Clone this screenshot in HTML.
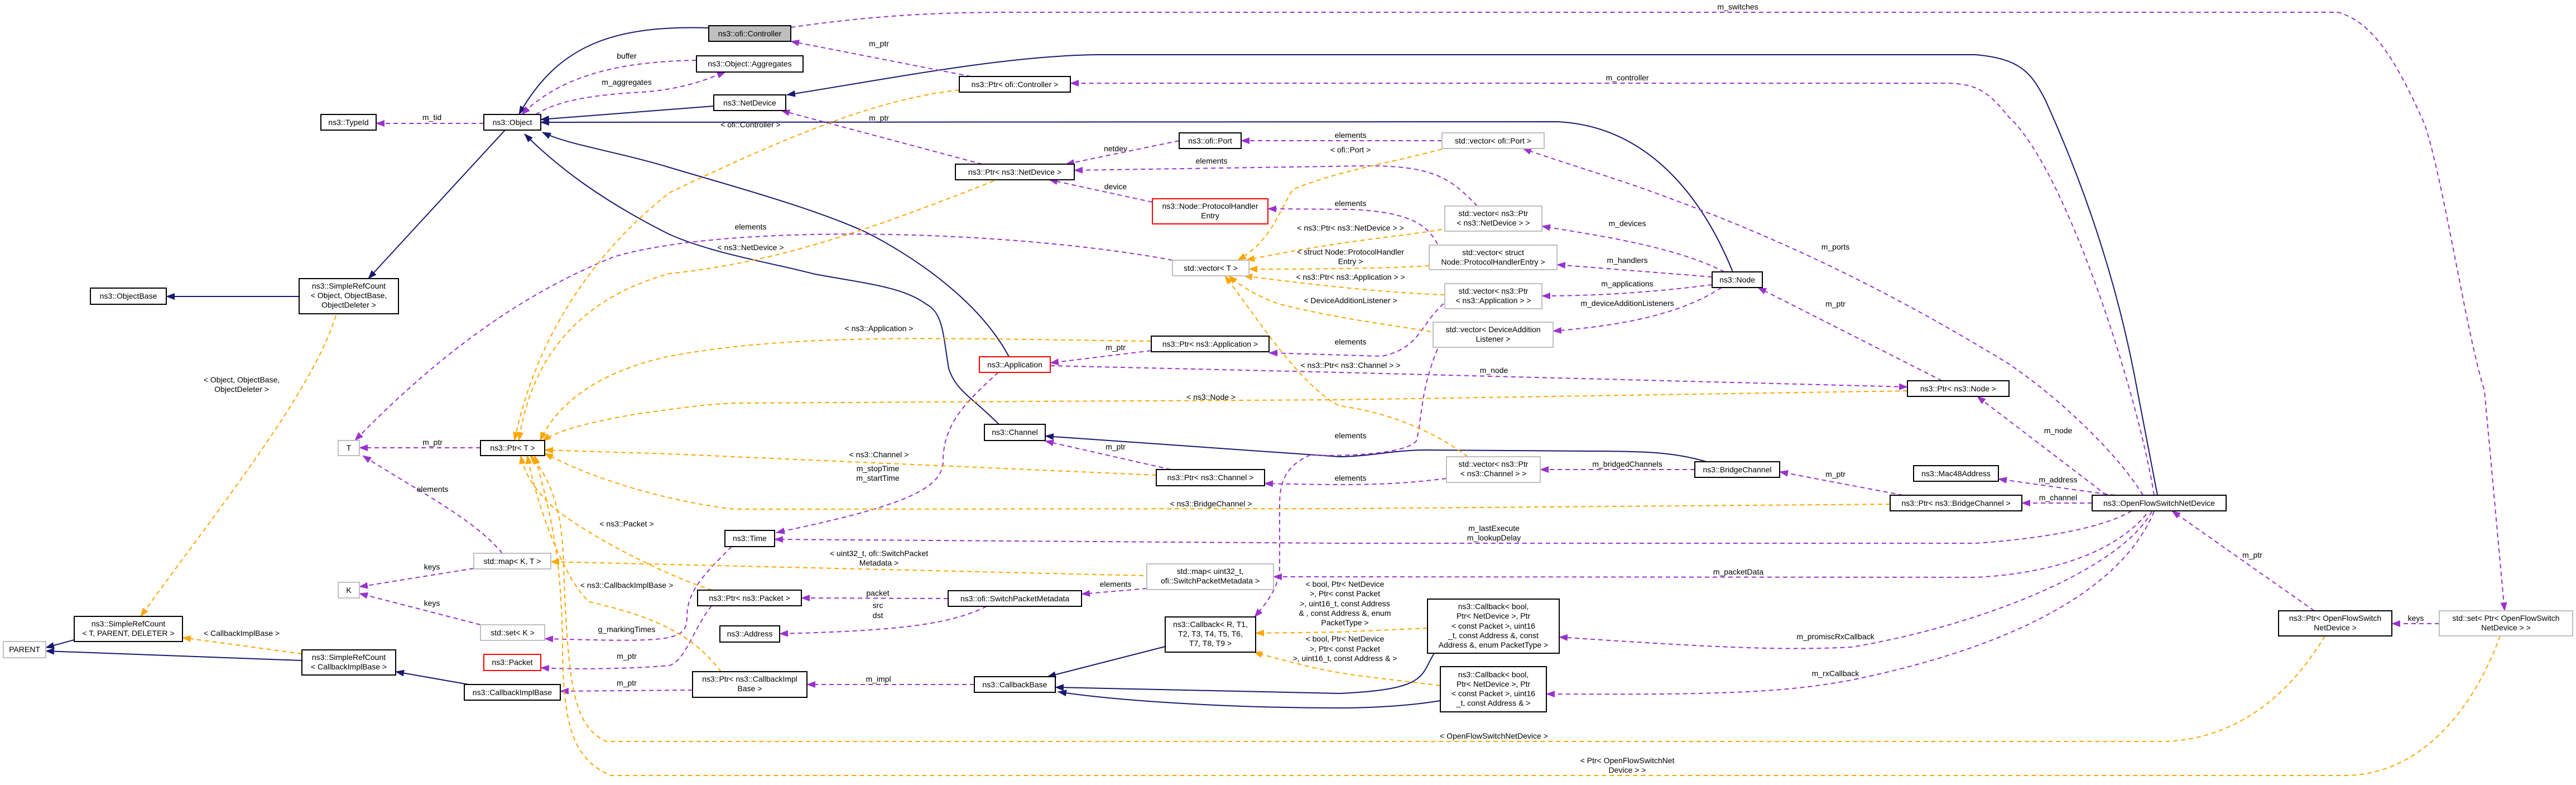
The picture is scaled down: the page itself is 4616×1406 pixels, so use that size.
<!DOCTYPE html>
<html><head><meta charset="utf-8"><style>
html,body{margin:0;padding:0;background:#fff;}
svg{display:block;}
text{font-family:"Liberation Sans",sans-serif;font-size:14px;fill:#000;}
.n{fill:#fff;stroke:#000;stroke-width:2;}
.g{fill:#fff;stroke:#bfbfbf;stroke-width:2;}
.r{fill:#fff;stroke:#ff0000;stroke-width:2;}
.b{fill:none;stroke:#191970;stroke-width:2;}
.p{fill:none;stroke:#9a32cd;stroke-width:2;stroke-dasharray:8,6;}
.o{fill:none;stroke:#ffa500;stroke-width:2;stroke-dasharray:8,6;}
</style></head><body>
<svg width="4616" height="1406" viewBox="0 0 4616 1406" xmlns="http://www.w3.org/2000/svg">
<defs>
<marker id="mb" markerUnits="userSpaceOnUse" markerWidth="16" markerHeight="12" refX="15" refY="6" orient="auto"><path d="M0,0 L16,6 L0,12 z" fill="#191970"/></marker>
<marker id="mp" markerUnits="userSpaceOnUse" markerWidth="16" markerHeight="12" refX="15" refY="6" orient="auto"><path d="M0,0 L16,6 L0,12 z" fill="#9a32cd"/></marker>
<marker id="mo" markerUnits="userSpaceOnUse" markerWidth="16" markerHeight="12" refX="15" refY="6" orient="auto"><path d="M0,0 L16,6 L0,12 z" fill="#ffa500"/></marker>
</defs>

<!-- navy inheritance edges -->
<g marker-end="url(#mb)">
<path class="b" d="M905,233 L660,499"/>
<path class="b" d="M536,531 L298,531"/>
<path class="b" d="M541,1183 L82,1166"/>
<path class="b" d="M133,1146 L82,1160"/>
<path class="b" d="M840,1226 L709,1203"/>
<path class="b" d="M1270,50 C1100,45 1000,80 930,205"/>
<path class="b" d="M1279,190 L969,214"/>
<path class="b" d="M3105,487 C3050,350 2950,225 2790,218 L969,219"/>
<path class="b" d="M1808,639 C1750,530 1620,450 1550,415 C1450,370 1300,330 1200,300 C1100,270 1020,260 972,237"/>
<path class="b" d="M1790,760 C1740,710 1713,700 1700,660 C1690,600 1690,560 1660,545 C1620,515 1560,509 1460,491 C1380,470 1280,455 1200,420 C1080,360 1000,300 940,240"/>
<path class="b" d="M3058,827 C3000,810 2950,808 2844,808 L2553,806 C2500,806 2450,818 2400,818 L1873,781"/>
<path class="b" d="M3866,887 L3830,700 C3790,480 3720,300 3665,179 C3640,130 3620,105 3540,98 L1965,98 C1800,100 1600,140 1410,170"/>
<path class="b" d="M2088,1158 L1877,1212"/>
<path class="b" d="M2570,1170 C2545,1210 2560,1235 2400,1242 L1891,1231"/>
<path class="b" d="M2581,1255 C2520,1265 2450,1268 2400,1268 C2200,1268 2000,1255 1896,1239"/>
</g>

<!-- purple usage edges -->
<g marker-end="url(#mp)">
<path class="p" d="M867,221 L674,221"/>
<path class="p" d="M1248,108 C1100,110 1000,140 935,205"/>
<path class="p" d="M960,205 C1000,180 1060,170 1150,165 C1220,160 1260,145 1300,129"/>
<path class="p" d="M1740,137 L1417,74"/>
<path class="p" d="M1760,294 L1400,198"/>
<path class="p" d="M2113,252 L1910,294"/>
<path class="p" d="M2647,369 C2600,320 2570,297 2450,297 L1925,305"/>
<path class="p" d="M2065,362 L1880,322"/>
<path class="p" d="M2584,252 L2224,252"/>
<path class="p" d="M2576,437 C2560,410 2540,380 2420,375 L2272,374"/>
<path class="p" d="M2101,466 C1800,410 1300,400 1100,460 C950,520 800,620 636,789"/>
<path class="p" d="M2063,628 L1882,650"/>
<path class="p" d="M1882,655 L2400,667 L3418,693"/>
<path class="p" d="M1789,667 C1730,720 1690,760 1690,826 C1690,880 1600,910 1391,954"/>
<path class="p" d="M2098,841 L1873,790"/>
<path class="p" d="M2592,857 C2500,868 2450,870 2266,866"/>
<path class="p" d="M2587,544 C2545,580 2545,624 2476,638 L2274,632"/>
<path class="p" d="M2576,625 C2545,700 2549,745 2538,790 C2520,812 2420,818 2348,815 C2300,835 2293,870 2293,903 L2293,1015 C2293,1050 2270,1080 2248,1105"/>
<path class="p" d="M3090,487 C3000,440 2850,420 2763,405"/>
<path class="p" d="M3068,496 L2790,474"/>
<path class="p" d="M3068,510 C2950,525 2850,530 2763,530"/>
<path class="p" d="M3085,515 C3000,570 2880,585 2783,593"/>
<path class="p" d="M3480,682 L3150,515"/>
<path class="p" d="M3840,887 C3800,820 3700,720 3600,652 C3450,560 3250,450 2997,357 C2900,320 2780,285 2729,266"/>
<path class="p" d="M3860,887 C3830,700 3700,300 3600,210 C3560,160 3540,149 3480,149 L1918,149"/>
<path class="p" d="M3775,887 L3543,710"/>
<path class="p" d="M3790,887 C3700,875 3640,866 3581,858"/>
<path class="p" d="M3749,901 L3623,901"/>
<path class="p" d="M3820,915 C3760,950 3640,966 3540,973 L2400,973 L1388,966"/>
<path class="p" d="M3846,921 C3780,1000 3650,1029 3540,1034 L2282,1033"/>
<path class="p" d="M3856,916 C3800,1020 3550,1120 3318,1159 C3200,1165 3089,1161 2794,1141"/>
<path class="p" d="M3860,916 C3800,1060 3600,1160 3318,1218 C3200,1240 3089,1245 2771,1243"/>
<path class="p" d="M4147,1094 L3892,915"/>
<path class="p" d="M4371,1117 L4286,1117"/>
<path class="p" d="M1417,49 C1550,30 1659,22 1812,22 L4190,22 C4250,40 4290,100 4345,223 C4380,330 4420,600 4452,700 L4488,1094"/>
<path class="p" d="M1699,1072 L1436,1071"/>
<path class="p" d="M1768,1086 C1700,1120 1600,1130 1397,1135"/>
<path class="p" d="M2055,1054 L1938,1064"/>
<path class="p" d="M1746,1226 L1446,1226"/>
<path class="p" d="M861,1119 L644,1063"/>
<path class="p" d="M849,1018 L644,1051"/>
<path class="p" d="M900,991 C850,930 750,880 650,816"/>
<path class="p" d="M861,802 L644,802"/>
<path class="p" d="M1311,979 C1260,1030 1231,1060 1231,1105 C1231,1150 1200,1150 976,1144"/>
<path class="p" d="M1275,1085 C1240,1130 1230,1180 1200,1192 C1100,1200 1000,1198 969,1196"/>
<path class="p" d="M1241,1236 L1004,1238"/>
<path class="p" d="M3037,841 L2760,841"/>
<path class="p" d="M3410,887 L3189,845"/>
</g>

<!-- orange template edges -->
<g marker-end="url(#mo)">
<path class="o" d="M602,565 C560,700 400,900 252,1104"/>
<path class="o" d="M541,1171 L327,1142"/>
<path class="o" d="M1719,161 C1600,175 1470,215 1200,345 C1070,446 960,600 922,789"/>
<path class="o" d="M1781,324 C1550,415 1390,470 1200,490 C1030,536 950,650 930,789"/>
<path class="o" d="M2063,611 C1700,607 1430,595 1200,638 C1050,670 990,740 968,789"/>
<path class="o" d="M3418,700 L2400,716 L1315,722 C1250,725 1200,734 1150,740 C1060,755 1000,770 972,790"/>
<path class="o" d="M2072,851 L1200,813 L976,806"/>
<path class="o" d="M3387,903 L2400,911 L1315,912 C1200,898 1071,862 976,812"/>
<path class="o" d="M1276,1057 C1200,1033 1071,970 995,912 C960,880 940,850 933,816"/>
<path class="o" d="M1292,1203 C1250,1150 1200,1110 1056,1078 C1010,1038 960,900 945,816"/>
<path class="o" d="M4166,1139 C4100,1250 4000,1328 3870,1328 L1086,1328 C1030,1300 1018,1240 1010,1015 C1008,920 990,860 950,816"/>
<path class="o" d="M4480,1139 C4440,1250 4350,1389 4200,1389 L1094,1389 C1030,1360 1008,1308 1008,1150 C1005,1000 990,930 958,816"/>
<path class="o" d="M2584,267 C2500,290 2400,305 2317,339 C2290,380 2280,430 2218,466"/>
<path class="o" d="M2584,411 C2500,425 2400,431 2233,466"/>
<path class="o" d="M2561,476 C2500,480 2400,482 2238,482"/>
<path class="o" d="M2589,528 C2500,525 2400,516 2229,494"/>
<path class="o" d="M2564,594 C2480,580 2400,571 2294,545 C2250,530 2220,510 2202,494"/>
<path class="o" d="M2630,818 C2580,780 2500,740 2400,727 C2330,690 2260,580 2195,494"/>
<path class="o" d="M2049,1031 L1200,1011 L987,1006"/>
<path class="o" d="M2558,1125 L2400,1132 L2250,1134"/>
<path class="o" d="M2581,1228 C2480,1215 2400,1209 2330,1190 C2290,1180 2260,1172 2247,1168"/>
</g>

<!-- nodes -->
<g text-anchor="middle">
<rect class="n" x="575" y="205" width="99" height="28"/><text x="624.5" y="224">ns3::TypeId</text>
<rect class="n" x="867" y="205" width="102" height="28"/><text x="918" y="224">ns3::Object</text>
<rect class="n" x="162" y="516" width="136" height="29"/><text x="230" y="535">ns3::ObjectBase</text>
<rect class="n" x="536" y="499" width="178" height="63"/><text x="625" y="517">ns3::SimpleRefCount</text><text x="625" y="534">&lt; Object, ObjectBase,</text><text x="625" y="551">ObjectDeleter &gt;</text>
<rect class="g" x="606" y="789" width="38" height="27"/><text x="625" y="807">T</text>
<rect class="n" x="861" y="789" width="115" height="27"/><text x="918.5" y="807">ns3::Ptr&lt; T &gt;</text>
<rect class="g" x="849" y="991" width="138" height="28"/><text x="918" y="1010">std::map&lt; K, T &gt;</text>
<rect class="g" x="606" y="1043" width="38" height="28"/><text x="625" y="1062">K</text>
<rect class="g" x="861" y="1119" width="115" height="28"/><text x="918.5" y="1138">std::set&lt; K &gt;</text>
<rect class="r" x="867" y="1172" width="102" height="29"/><text x="918" y="1191">ns3::Packet</text>
<rect class="n" x="832" y="1226" width="172" height="28"/><text x="918" y="1245">ns3::CallbackImplBase</text>
<rect class="n" x="541" y="1164" width="168" height="45"/><text x="625" y="1182">ns3::SimpleRefCount</text><text x="625" y="1199">&lt; CallbackImplBase &gt;</text>
<rect class="n" x="133" y="1104" width="194" height="45"/><text x="230" y="1122">ns3::SimpleRefCount</text><text x="230" y="1139">&lt; T, PARENT, DELETER &gt;</text>
<rect class="g" x="6" y="1149" width="76" height="29"/><text x="44" y="1168">PARENT</text>
<rect x="1270" y="46" width="147" height="28" fill="#bfbfbf" stroke="#000" stroke-width="2"/><text x="1343.5" y="65">ns3::ofi::Controller</text>
<rect class="n" x="1248" y="100" width="191" height="29"/><text x="1343.5" y="119">ns3::Object::Aggregates</text>
<rect class="n" x="1279" y="170" width="129" height="28"/><text x="1343.5" y="189">ns3::NetDevice</text>
<rect class="n" x="1719" y="137" width="199" height="28"/><text x="1818.5" y="156">ns3::Ptr&lt; ofi::Controller &gt;</text>
<rect class="n" x="2113" y="238" width="111" height="28"/><text x="2168.5" y="257">ns3::ofi::Port</text>
<rect class="n" x="1712" y="294" width="213" height="28"/><text x="1818.5" y="313">ns3::Ptr&lt; ns3::NetDevice &gt;</text>
<rect class="r" x="2065" y="356" width="207" height="45"/><text x="2168.5" y="374">ns3::Node::ProtocolHandler</text><text x="2168.5" y="391">Entry</text>
<rect class="g" x="2101" y="466" width="137" height="28"/><text x="2169.5" y="485">std::vector&lt; T &gt;</text>
<rect class="n" x="2063" y="602" width="211" height="28"/><text x="2168.5" y="621">ns3::Ptr&lt; ns3::Application &gt;</text>
<rect class="r" x="1755" y="639" width="127" height="28"/><text x="1818.5" y="658">ns3::Application</text>
<rect class="n" x="1764" y="760" width="109" height="29"/><text x="1818.5" y="779">ns3::Channel</text>
<rect class="n" x="2072" y="841" width="194" height="29"/><text x="2169" y="860">ns3::Ptr&lt; ns3::Channel &gt;</text>
<rect class="n" x="1299" y="950" width="89" height="29"/><text x="1343.5" y="969">ns3::Time</text>
<rect class="g" x="2055" y="1010" width="227" height="46"/><text x="2168.5" y="1028">std::map&lt; uint32_t,</text><text x="2168.5" y="1045">ofi::SwitchPacketMetadata &gt;</text>
<rect class="n" x="1250" y="1057" width="186" height="28"/><text x="1343" y="1076">ns3::Ptr&lt; ns3::Packet &gt;</text>
<rect class="n" x="1699" y="1058" width="239" height="28"/><text x="1818.5" y="1077">ns3::ofi::SwitchPacketMetadata</text>
<rect class="n" x="1290" y="1121" width="107" height="29"/><text x="1343.5" y="1140">ns3::Address</text>
<rect class="n" x="2088" y="1105" width="162" height="63"/><text x="2169" y="1123">ns3::Callback&lt; R, T1,</text><text x="2169" y="1140">T2, T3, T4, T5, T6,</text><text x="2169" y="1157">T7, T8, T9 &gt;</text>
<rect class="n" x="1241" y="1203" width="205" height="46"/><text x="1343.5" y="1221">ns3::Ptr&lt; ns3::CallbackImpl</text><text x="1343.5" y="1238">Base &gt;</text>
<rect class="n" x="1746" y="1212" width="145" height="28"/><text x="1818.5" y="1231">ns3::CallbackBase</text>
<rect class="g" x="2584" y="238" width="183" height="28"/><text x="2675.5" y="257">std::vector&lt; ofi::Port &gt;</text>
<rect class="g" x="2589" y="369" width="174" height="45"/><text x="2676" y="387">std::vector&lt; ns3::Ptr</text><text x="2676" y="404">&lt; ns3::NetDevice &gt; &gt;</text>
<rect class="g" x="2561" y="439" width="229" height="44"/><text x="2675.5" y="457">std::vector&lt; struct</text><text x="2675.5" y="474">Node::ProtocolHandlerEntry &gt;</text>
<rect class="g" x="2589" y="508" width="174" height="45"/><text x="2676" y="526">std::vector&lt; ns3::Ptr</text><text x="2676" y="543">&lt; ns3::Application &gt; &gt;</text>
<rect class="g" x="2568" y="577" width="215" height="45"/><text x="2675.5" y="595">std::vector&lt; DeviceAddition</text><text x="2675.5" y="612">Listener &gt;</text>
<rect class="n" x="3068" y="487" width="90" height="28"/><text x="3113" y="506">ns3::Node</text>
<rect class="n" x="3418" y="682" width="182" height="28"/><text x="3509" y="701">ns3::Ptr&lt; ns3::Node &gt;</text>
<rect class="g" x="2592" y="818" width="168" height="46"/><text x="2676" y="836">std::vector&lt; ns3::Ptr</text><text x="2676" y="853">&lt; ns3::Channel &gt; &gt;</text>
<rect class="n" x="3037" y="827" width="152" height="28"/><text x="3113" y="846">ns3::BridgeChannel</text>
<rect class="n" x="3429" y="834" width="152" height="28"/><text x="3505" y="853">ns3::Mac48Address</text>
<rect class="n" x="3387" y="887" width="236" height="28"/><text x="3505" y="906">ns3::Ptr&lt; ns3::BridgeChannel &gt;</text>
<rect class="n" x="2558" y="1073" width="236" height="97"/><text x="2676" y="1091">ns3::Callback&lt; bool,</text><text x="2676" y="1108">Ptr&lt; NetDevice &gt;, Ptr</text><text x="2676" y="1126">&lt; const Packet &gt;, uint16</text><text x="2676" y="1143">_t, const Address &amp;, const</text><text x="2676" y="1160">Address &amp;, enum PacketType &gt;</text>
<rect class="n" x="2581" y="1194" width="190" height="81"/><text x="2676" y="1213">ns3::Callback&lt; bool,</text><text x="2676" y="1230">Ptr&lt; NetDevice &gt;, Ptr</text><text x="2676" y="1247">&lt; const Packet &gt;, uint16</text><text x="2676" y="1264">_t, const Address &amp; &gt;</text>
<rect class="n" x="3749" y="887" width="240" height="28"/><text x="3869" y="906">ns3::OpenFlowSwitchNetDevice</text>
<rect class="n" x="4083" y="1094" width="203" height="45"/><text x="4184.5" y="1112">ns3::Ptr&lt; OpenFlowSwitch</text><text x="4184.5" y="1129">NetDevice &gt;</text>
<rect class="g" x="4371" y="1094" width="239" height="45"/><text x="4490.5" y="1112">std::set&lt; Ptr&lt; OpenFlowSwitch</text><text x="4490.5" y="1129">NetDevice &gt; &gt;</text>
</g>

<!-- edge labels -->
<g text-anchor="middle">
<text x="774" y="215">m_tid</text>
<text x="1123" y="105">buffer</text>
<text x="1123" y="152">m_aggregates</text>
<text x="433" y="685">&lt; Object, ObjectBase,</text>
<text x="433" y="702">ObjectDeleter &gt;</text>
<text x="775" y="797">m_ptr</text>
<text x="775" y="881">elements</text>
<text x="774" y="1020">keys</text>
<text x="774" y="1085">keys</text>
<text x="433" y="1139">&lt; CallbackImplBase &gt;</text>
<text x="1123" y="943">&lt; ns3::Packet &gt;</text>
<text x="1123" y="1053">&lt; ns3::CallbackImplBase &gt;</text>
<text x="1123" y="1132">g_markingTimes</text>
<text x="1123" y="1180">m_ptr</text>
<text x="1123" y="1228">m_ptr</text>
<text x="1575" y="83">m_ptr</text>
<text x="1575" y="216">m_ptr</text>
<text x="1345" y="228">&lt; ofi::Controller &gt;</text>
<text x="1999" y="271">netdev</text>
<text x="2171" y="293">elements</text>
<text x="1999" y="339">device</text>
<text x="1345" y="411">elements</text>
<text x="1345" y="448">&lt; ns3::NetDevice &gt;</text>
<text x="1575" y="593">&lt; ns3::Application &gt;</text>
<text x="1999" y="627">m_ptr</text>
<text x="2170" y="716">&lt; ns3::Node &gt;</text>
<text x="1999" y="805">m_ptr</text>
<text x="1575" y="819">&lt; ns3::Channel &gt;</text>
<text x="1573" y="844">m_stopTime</text>
<text x="1573" y="861">m_startTime</text>
<text x="2170" y="907">&lt; ns3::BridgeChannel &gt;</text>
<text x="1575" y="996">&lt; uint32_t, ofi::SwitchPacket</text>
<text x="1575" y="1013">Metadata &gt;</text>
<text x="1999" y="1051">elements</text>
<text x="1573" y="1067">packet</text>
<text x="1573" y="1089">src</text>
<text x="1573" y="1107">dst</text>
<text x="1574" y="1221">m_impl</text>
<text x="3114" y="17">m_switches</text>
<text x="2916" y="144">m_controller</text>
<text x="2916" y="405">m_devices</text>
<text x="2916" y="471">m_handlers</text>
<text x="2916" y="513">m_applications</text>
<text x="2916" y="548">m_deviceAdditionListeners</text>
<text x="3289" y="447">m_ports</text>
<text x="3289" y="549">m_ptr</text>
<text x="2677" y="668">m_node</text>
<text x="2420" y="247">elements</text>
<text x="2420" y="273">&lt; ofi::Port &gt;</text>
<text x="2420" y="369">elements</text>
<text x="2420" y="413">&lt; ns3::Ptr&lt; ns3::NetDevice &gt; &gt;</text>
<text x="2420" y="456">&lt; struct Node::ProtocolHandler</text>
<text x="2420" y="473">Entry &gt;</text>
<text x="2420" y="501">&lt; ns3::Ptr&lt; ns3::Application &gt; &gt;</text>
<text x="2420" y="543">&lt; DeviceAdditionListener &gt;</text>
<text x="2420" y="617">elements</text>
<text x="2420" y="659">&lt; ns3::Ptr&lt; ns3::Channel &gt; &gt;</text>
<text x="2420" y="785">elements</text>
<text x="2420" y="861">elements</text>
<text x="2916" y="836">m_bridgedChannels</text>
<text x="3289" y="854">m_ptr</text>
<text x="2677" y="951">m_lastExecute</text>
<text x="2677" y="968">m_lookupDelay</text>
<text x="3115" y="1029">m_packetData</text>
<text x="2410" y="1051">&lt; bool, Ptr&lt; NetDevice</text>
<text x="2410" y="1068">&gt;, Ptr&lt; const Packet</text>
<text x="2410" y="1086">&gt;, uint16_t, const Address</text>
<text x="2410" y="1103">&amp; , const Address &amp;, enum</text>
<text x="2410" y="1120">PacketType &gt;</text>
<text x="2410" y="1149">&lt; bool, Ptr&lt; NetDevice</text>
<text x="2410" y="1167">&gt;, Ptr&lt; const Packet</text>
<text x="2410" y="1184">&gt;, uint16_t, const Address &amp; &gt;</text>
<text x="3289" y="1145">m_promiscRxCallback</text>
<text x="3289" y="1211">m_rxCallback</text>
<text x="2677" y="1323">&lt; OpenFlowSwitchNetDevice &gt;</text>
<text x="2916" y="1367">&lt; Ptr&lt; OpenFlowSwitchNet</text>
<text x="2916" y="1384">Device &gt; &gt;</text>
<text x="3688" y="776">m_node</text>
<text x="3688" y="864">m_address</text>
<text x="3688" y="896">m_channel</text>
<text x="4036" y="999">m_ptr</text>
<text x="4329" y="1112">keys</text>
</g>
</svg>
</body></html>
